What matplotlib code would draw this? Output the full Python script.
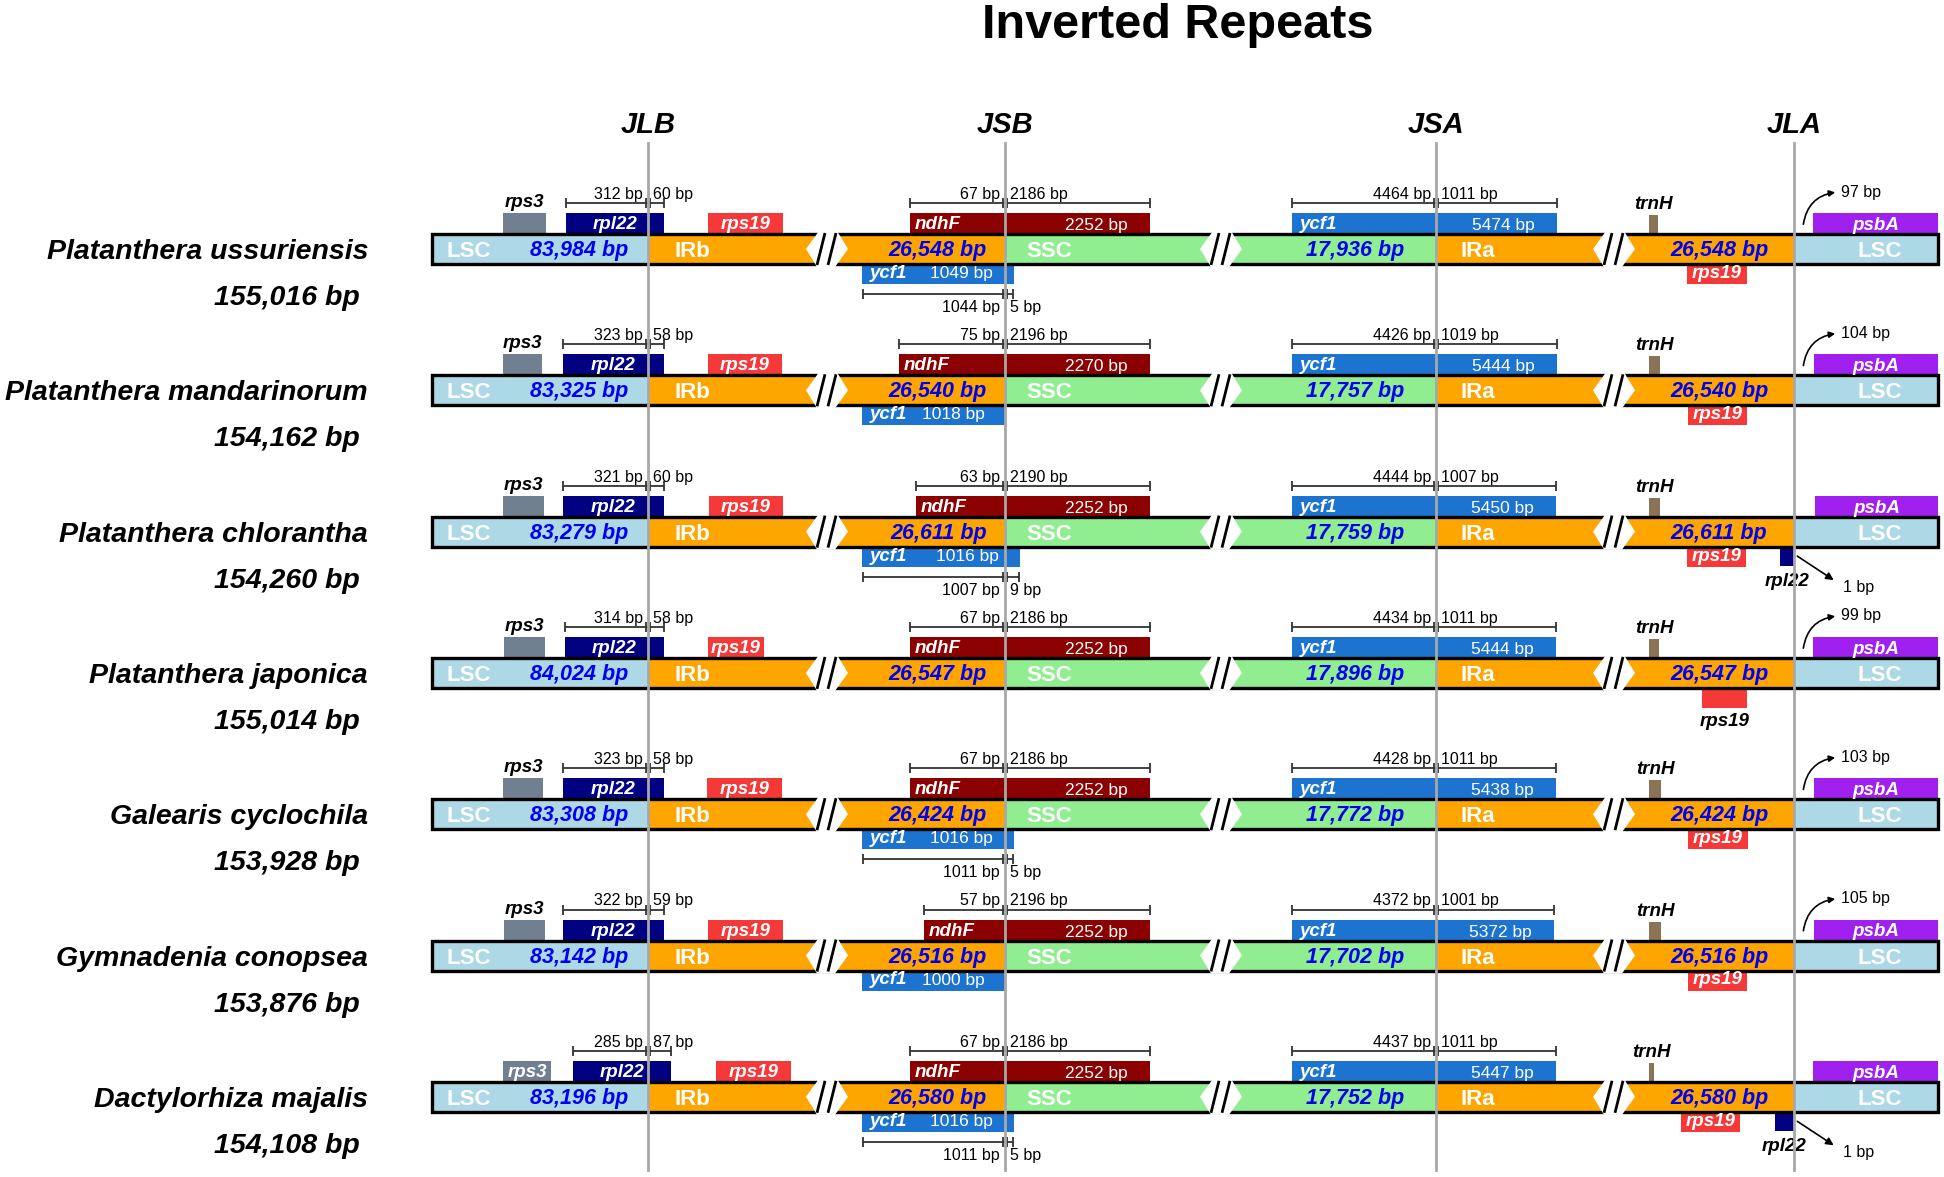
import matplotlib
matplotlib.use("Agg")
import matplotlib.pyplot as plt
from matplotlib.patches import Rectangle, Polygon, FancyArrowPatch

plt.rcParams['font.family'] = ['Liberation Sans', 'DejaVu Sans']

# ---------------- data ----------------
species = ["Platanthera ussuriensis", "Platanthera mandarinorum", "Platanthera chlorantha",
           "Platanthera japonica", "Galearis cyclochila", "Gymnadenia conopsea",
           "Dactylorhiza majalis"]
genome_bp = [155016, 154162, 154260, 155014, 153928, 153876, 154108]
lsc_bp = [83984, 83325, 83279, 84024, 83308, 83142, 83196]
ir_bp = [26548, 26540, 26611, 26547, 26424, 26516, 26580]
ssc_bp = [17936, 17757, 17759, 17896, 17772, 17702, 17752]
junction_names = ["JLB", "JSB", "JSA", "JLA"]

rpl22_left = [312, 323, 321, 314, 323, 322, 285]
rpl22_right = [60, 58, 60, 58, 58, 59, 87]
ndhF_left = [67, 75, 63, 67, 67, 57, 67]
ndhF_right = [2186, 2196, 2190, 2186, 2186, 2196, 2186]
ndhF_len = [2252, 2270, 2252, 2252, 2252, 2252, 2252]
ycf1_left = [4464, 4426, 4444, 4434, 4428, 4372, 4437]
ycf1_right = [1011, 1019, 1007, 1011, 1011, 1001, 1011]
ycf1_len = [5474, 5444, 5450, 5444, 5438, 5372, 5447]
ycf1_frag_len = [1049, 1018, 1016, None, 1016, 1000, 1016]
ycf1_frag_left = [1044, None, 1007, None, 1011, None, 1011]
ycf1_frag_right = [5, None, 9, None, 5, None, 5]
psbA_gap = [97, 104, None, 99, 103, 105, None]
rpl22_jla_gap = [None, None, 1, None, None, None, 1]

# diagram coordinates of junctions, breaks and gene boxes
junction_x = [648, 1005, 1436, 1794]
break_x = [827, 1221, 1614]
bar_span = (432, 1938)
rps3_span = [(503, 546), (503, 542), (503, 544), (504, 545), (503, 543), (504, 545), (503, 551)]
rpl22_span = [(566, 664), (563, 664), (563, 664), (565, 664), (563, 664), (563, 664), (573, 671)]
rps19b_span = [(708, 783), (708, 782), (709, 783), (708, 764), (707, 782), (708, 783), (716, 791)]
ndhF_span = [(910, 1150), (899, 1150), (916, 1150), (910, 1150), (910, 1150), (924, 1150), (910, 1150)]
ycf1b_span = [(862, 1014), (862, 1006), (862, 1020), None, (862, 1014), (862, 1006), (862, 1014)]
ycf1a_span = [(1292, 1557), (1292, 1557), (1292, 1556), (1292, 1556), (1292, 1556), (1292, 1554), (1292, 1556)]
trnH_span = [(1649, 1658), (1649, 1660), (1649, 1660), (1649, 1659), (1649, 1661), (1649, 1661), (1649, 1654)]
rps19a_span = [(1687, 1747), (1688, 1747), (1687, 1746), (1702, 1747), (1688, 1748), (1688, 1747), (1681, 1740)]
psbA_span = [(1813, 1938), (1814, 1938), (1815, 1938), (1813, 1938), (1814, 1938), (1814, 1938), (1813, 1938)]
rpl22a_span = [None, None, (1780, 1794), None, None, None, (1775, 1794)]

# ---------------- styles ----------------
C_LSC = '#ADD8E6'
C_IR = '#FFA500'
C_SSC = '#90EE90'
C_RPS3 = '#708090'
C_RPL22 = '#000080'
C_RPS19 = '#F53838'
C_NDHF = '#8B0000'
C_YCF1 = '#1C74D0'
C_TRNH = '#8B7355'
C_PSBA = '#A020F0'
C_NUM = '#0000EE'
C_JL = '#A8A8A8'

fig = plt.figure(figsize=(19.44, 11.77), dpi=100)
ax = fig.add_axes([0, 0, 1, 1])
ax.set_xlim(0, 1944)
ax.set_ylim(1177, 0)
ax.axis('off')

ROW0, DY = 249, 141.3
BH = 15

def fmt(n):
    return f"{n:,} bp"

def gene(x0, x1, top, bot, color, z=3):
    ax.add_patch(Rectangle((x0, top), x1 - x0, bot - top, fc=color, ec='none', zorder=z))

def gtext(x, y, s, color='white', size=13.5, ha='center', style='italic', weight='bold'):
    ax.text(x, y, s, color=color, fontsize=size, ha=ha, va='baseline',
            fontstyle=style, fontweight=weight, zorder=6)

def genome_bar(yc):
    top, bot = yc - BH, yc + BH
    x0, x1 = bar_span
    edges = [x0] + junction_x + [x1]
    cols = [C_LSC, C_IR, C_SSC, C_IR, C_LSC]
    for a, b, c in zip(edges[:-1], edges[1:], cols):
        ax.add_patch(Rectangle((a, top), b - a, bot - top, fc=c, ec='none', zorder=2))
    ax.add_patch(Rectangle((x0, top), x1 - x0, bot - top, fill=False, ec='black', lw=2.4,
                           joinstyle='miter', zorder=4))
    for xb in break_x:
        hexa = [(xb - 21, yc), (xb - 8, top - 3), (xb + 10, top - 3), (xb + 21, yc),
                (xb + 8, bot + 3), (xb - 10, bot + 3)]
        ax.add_patch(Polygon(hexa, closed=True, fc='white', ec='none', zorder=5))
        for dx in (-6, 5):
            ax.plot([xb + dx - 4, xb + dx + 4], [bot + 1, top - 1], color='black', lw=2.0,
                    solid_capstyle='butt', zorder=6)

def bracket(x0, x1, xj, y, ltxt, rtxt, above=True):
    kw = dict(color='#333333', lw=1.3, zorder=5, solid_capstyle='butt')
    ax.plot([x0, x1], [y, y], **kw)
    for x in (x0, x1, xj - 2, xj + 2):
        ax.plot([x, x], [y - 5, y + 5], **kw)
    ty = y - 4 if above else y + 18
    ax.text(xj - 5, ty, ltxt, ha='right', va='baseline', fontsize=11.5, color='black', zorder=6)
    ax.text(xj + 5, ty, rtxt, ha='left', va='baseline', fontsize=11.5, color='black', zorder=6)

# title
ax.text(1178, 38, "Inverted Repeats", ha='center', va='baseline', fontsize=35, fontweight='bold')

# junction labels and lines
for name, xj in zip(junction_names, junction_x):
    ax.text(xj, 133, name, ha='center', va='baseline', fontsize=21, fontweight='bold', fontstyle='italic')
    ax.plot([xj, xj], [143, 1170], color=C_JL, lw=2.0, zorder=10)

JLB, JSB, JSA, JLA = junction_x

for i in range(len(species)):
    yc = ROW0 + i * DY
    up_t, up_b = yc - 36, yc - 16
    dn_t, dn_b = yc + 16, yc + 35

    # species labels
    ax.text(368, yc + 10, species[i], ha='right', va='baseline', fontsize=20.5,
            fontweight='bold', fontstyle='italic')
    ax.text(360, yc + 56, fmt(genome_bp[i]), ha='right', va='baseline', fontsize=20.5,
            fontweight='bold', fontstyle='italic')

    genome_bar(yc)

    # region texts
    gtext(469, yc + 8, "LSC", size=16, style='normal')
    gtext(628, yc + 7, fmt(lsc_bp[i]), color=C_NUM, size=15.5, ha='right')
    gtext(692, yc + 8, "IRb", size=16, style='normal')
    gtext(987, yc + 7, fmt(ir_bp[i]), color=C_NUM, size=15.5, ha='right')
    gtext(1049, yc + 8, "SSC", size=16, style='normal')
    gtext(1355, yc + 7, fmt(ssc_bp[i]), color=C_NUM, size=15.5)
    gtext(1478, yc + 8, "IRa", size=16, style='normal')
    gtext(1719, yc + 7, fmt(ir_bp[i]), color=C_NUM, size=15.5)
    gtext(1880, yc + 8, "LSC", size=16, style='normal')

    # rps3
    a, b = rps3_span[i]
    gene(a, b, up_t, up_b, C_RPS3)
    if i == len(species) - 1:
        gtext((a + b) / 2, yc - 20, "rps3")
    else:
        gtext((a + b) / 2, yc - 42, "rps3", color='black')

    # rpl22 at JLB
    a, b = rpl22_span[i]
    gene(a, b, up_t, up_b, C_RPL22)
    gtext((a + b) / 2, yc - 20, "rpl22")
    bracket(a, b, JLB, yc - 46, f"{rpl22_left[i]} bp", f"{rpl22_right[i]} bp")

    # rps19 in IRb
    a, b = rps19b_span[i]
    gene(a, b, up_t, up_b, C_RPS19)
    gtext((a + b) / 2, yc - 20, "rps19")

    # ndhF at JSB
    a, b = ndhF_span[i]
    gene(a, b, up_t, up_b, C_NDHF)
    gtext(a + 5, yc - 20, "ndhF", ha='left')
    gtext(b - 22, yc - 19, f"{ndhF_len[i]} bp", ha='right', size=12.5, style='normal', weight='normal')
    bracket(a, b, JSB, yc - 46, f"{ndhF_left[i]} bp", f"{ndhF_right[i]} bp")

    # ycf1 fragment at JSB
    if ycf1b_span[i] is not None:
        a, b = ycf1b_span[i]
        gene(a, b, dn_t, dn_b, C_YCF1)
        gtext(a + 8, yc + 29, "ycf1", ha='left')
        gtext(b - 21, yc + 29, f"{ycf1_frag_len[i]} bp", ha='right', size=12.5, style='normal', weight='normal')
        if ycf1_frag_left[i] is not None:
            bracket(a + 1, b - 1, JSB, yc + 45, f"{ycf1_frag_left[i]} bp", f"{ycf1_frag_right[i]} bp", above=False)

    # ycf1 at JSA
    a, b = ycf1a_span[i]
    gene(a, b, up_t, up_b, C_YCF1)
    gtext(a + 8, yc - 20, "ycf1", ha='left')
    gtext(b - 22, yc - 19, f"{ycf1_len[i]} bp", ha='right', size=12.5, style='normal', weight='normal')
    bracket(a, b, JSA, yc - 46, f"{ycf1_left[i]} bp", f"{ycf1_right[i]} bp")

    # trnH
    a, b = trnH_span[i]
    gene(a, b, up_t + 2, up_b + 2, C_TRNH)
    gtext((a + b) / 2, yc - 40, "trnH", color='black')

    # rps19 in IRa
    a, b = rps19a_span[i]
    gene(a, b, dn_t, dn_b, C_RPS19)
    if i == 3:
        gtext((a + b) / 2, yc + 53, "rps19", color='black')
    else:
        gtext((a + b) / 2, yc + 29, "rps19")

    # psbA
    a, b = psbA_span[i]
    gene(a, b, up_t, up_b, C_PSBA)
    gtext((a + b) / 2, yc - 19, "psbA")
    if psbA_gap[i] is not None:
        arr = FancyArrowPatch((1803, yc - 22), (1838, yc - 57), connectionstyle='arc3,rad=-0.4',
                              arrowstyle='-|>', mutation_scale=9, lw=1.2, color='black', zorder=6)
        ax.add_patch(arr)
        ax.text(1841, yc - 57, f"{psbA_gap[i]} bp", ha='left', va='center', fontsize=11.5, zorder=6)

    # rpl22 at JLA
    if rpl22a_span[i] is not None:
        a, b = rpl22a_span[i]
        gene(a, b, dn_t, dn_b - 1, C_RPL22)
        gtext((a + b) / 2, yc + 54, "rpl22", color='black')
        arr = FancyArrowPatch((1795, yc + 23), (1836, yc + 50), arrowstyle='-|>',
                              mutation_scale=11, lw=1.2, color='black', zorder=6)
        ax.add_patch(arr)
        ax.text(1843, yc + 56, f"{rpl22_jla_gap[i]} bp", ha='left', va='center', fontsize=11.5, zorder=6)

fig.savefig("out.png", dpi=100)
